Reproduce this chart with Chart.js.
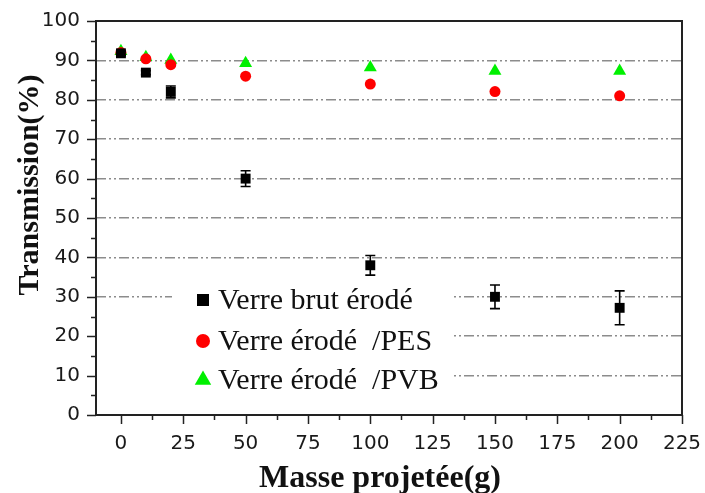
<!DOCTYPE html>
<html>
<head>
<meta charset="utf-8">
<script src="https://cdn.jsdelivr.net/npm/chart.js@4.4.1/dist/chart.umd.min.js"></script>
<style>
html,body{margin:0;padding:0;background:#fff;}
#wrap{position:relative;width:705px;height:493px;}
</style>
</head>
<body>
<div id="wrap"><canvas id="c" width="705" height="493"></canvas></div>
<script>
const masses = [0, 10, 20, 50, 100, 150, 200];
const brut = [91.8, 86.9, 82.0, 60.0, 38.0, 30.0, 27.2];
const brutErr = [0.6, 0.5, 1.5, 2.0, 2.5, 3.0, 4.3];
const pes = [92.0, 90.4, 88.9, 86.0, 84.0, 82.1, 81.0];
const pvb = [92.3, 90.8, 90.1, 89.3, 88.2, 87.3, 87.3];
const seriesLabels = ['Verre brut érodé', 'Verre érodé  /PES', 'Verre érodé  /PVB'];
const xTicks = [0, 25, 50, 75, 100, 125, 150, 175, 200, 225];
const yTicks = [0, 10, 20, 30, 40, 50, 60, 70, 80, 90, 100];
const xTitle = 'Masse projetée(g)';
const yTitle = 'Transmission(%)';

const toPts = (ys) => masses.map((m, i) => ({x: m, y: ys[i]}));

const errPlugin = {
  id: 'errbars',
  afterDatasetsDraw(chart) {
    const ctx = chart.ctx, xs = chart.scales.x, ys = chart.scales.y;
    ctx.save();
    ctx.strokeStyle = '#000';
    ctx.lineWidth = 1.6;
    masses.forEach((m, i) => {
      const px = xs.getPixelForValue(m);
      const top = ys.getPixelForValue(brut[i] + brutErr[i]);
      const bot = ys.getPixelForValue(brut[i] - brutErr[i]);
      ctx.beginPath();
      ctx.moveTo(px, top); ctx.lineTo(px, bot);
      ctx.moveTo(px - 5, top); ctx.lineTo(px + 5, top);
      ctx.moveTo(px - 5, bot); ctx.lineTo(px + 5, bot);
      ctx.stroke();
    });
    ctx.restore();
  }
};

const framePlugin = {
  id: 'frame',
  beforeDatasetsDraw(chart) {
    const ctx = chart.ctx, a = chart.chartArea, xs = chart.scales.x, ys = chart.scales.y;
    ctx.save();
    // legend background (masks the grid lines)
    ctx.fillStyle = '#fff';
    ctx.fillRect(172, 284, 281, 40);
    ctx.fillRect(a.left + 1, 324, 453 - a.left - 1, 80);
    // frame
    ctx.strokeStyle = '#222';
    ctx.lineWidth = 2;
    ctx.strokeRect(a.left, a.top, a.right - a.left, a.bottom - a.top);
    // tick marks
    ctx.lineWidth = 1.5;
    ctx.beginPath();
    for (let v = 0; v <= 100; v += 5) {
      const py = Math.round(ys.getPixelForValue(v)) + 0.5;
      const len = v % 10 === 0 ? 9 : 5;
      ctx.moveTo(a.left - len, py); ctx.lineTo(a.left, py);
    }
    for (let v = 0; v <= 225; v += 12.5) {
      const px = Math.round(xs.getPixelForValue(v)) + 0.5;
      const len = v % 25 === 0 ? 9 : 5;
      ctx.moveTo(px, a.bottom); ctx.lineTo(px, a.bottom + len);
    }
    ctx.stroke();
    // axis titles
    ctx.fillStyle = '#111';
    ctx.textAlign = 'center';
    ctx.textBaseline = 'alphabetic';
    ctx.font = 'bold 32px "Liberation Serif"';
    ctx.fillText(xTitle, 380, 487);
    ctx.font = 'bold 30px "Liberation Serif"';
    ctx.translate(38, 185);
    ctx.rotate(-Math.PI / 2);
    ctx.fillText(yTitle, 0, 0);
    ctx.restore();
  },
  afterDraw(chart) {
    const ctx = chart.ctx;
    ctx.save();
    const rows = [300, 341, 380];
    const mx = 203;
    chart.data.datasets.forEach((ds, i) => {
      const y = rows[i];
      ctx.fillStyle = ds.backgroundColor;
      ctx.beginPath();
      if (ds.pointStyle === 'rect') {
        ctx.rect(mx - 6, y - 6, 12, 12);
      } else if (ds.pointStyle === 'circle') {
        ctx.arc(mx, y, 7, 0, Math.PI * 2);
      } else {
        const r = 9.5;
        ctx.moveTo(mx, y - r);
        ctx.lineTo(mx + r * 0.866, y + r * 0.5);
        ctx.lineTo(mx - r * 0.866, y + r * 0.5);
        ctx.closePath();
      }
      ctx.fill();
      ctx.fillStyle = '#111';
      ctx.font = '30px "Liberation Serif"';
      ctx.textAlign = 'left';
      ctx.textBaseline = 'middle';
      ctx.fillText(ds.label, 218, y + 1);
    });
    ctx.restore();
  }
};

new Chart(document.getElementById('c'), {
  type: 'scatter',
  data: {
    datasets: [
      {label: seriesLabels[0], data: toPts(brut), pointStyle: 'rect', pointRadius: 7, pointHoverRadius: 7,
       backgroundColor: '#000', borderColor: '#000', borderWidth: 0},
      {label: seriesLabels[1], data: toPts(pes), pointStyle: 'circle', pointRadius: 5.5, pointHoverRadius: 5.5,
       backgroundColor: '#ff0000', borderColor: '#ff0000', borderWidth: 0},
      {label: seriesLabels[2], data: toPts(pvb), pointStyle: 'triangle', pointRadius: 7.5, pointHoverRadius: 7.5,
       backgroundColor: '#00f000', borderColor: '#00f000', borderWidth: 0}
    ]
  },
  options: {
    responsive: false,
    animation: false,
    events: [],
    layout: {padding: {left: 0, right: 23, top: 21, bottom: 0}},
    plugins: {legend: {display: false}, tooltip: {enabled: false}},
    scales: {
      x: {
        type: 'linear', min: -10, max: 225,
        afterBuildTicks: (s) => { s.ticks = xTicks.map(v => ({value: v})); },
        afterFit: (s) => { s.height = 78; s.paddingLeft = 0; s.paddingRight = 0; },
        grid: {display: false, drawTicks: false},
        border: {display: false},
        ticks: {padding: 17, color: '#1a1a1a', font: {family: '"DejaVu Sans"', size: 20}, maxRotation: 0, autoSkip: false}
      },
      y: {
        type: 'linear', min: 0, max: 100,
        afterBuildTicks: (s) => { s.ticks = yTicks.map(v => ({value: v})); },
        afterFit: (s) => { s.width = 96; s.paddingTop = 0; s.paddingBottom = 0; },
        grid: {
          drawTicks: false,
          lineWidth: 1.5,
          color: (c) => (c.tick && c.tick.value > 0 && c.tick.value < 100) ? '#8c8c8c' : 'rgba(0,0,0,0)'
        },
        border: {display: false, dash: [10, 3, 2, 3, 2, 3]},
        ticks: {padding: 16, color: '#1a1a1a', font: {family: '"DejaVu Sans"', size: 20}}
      }
    }
  },
  plugins: [errPlugin, framePlugin]
});
</script>
</body>
</html>
